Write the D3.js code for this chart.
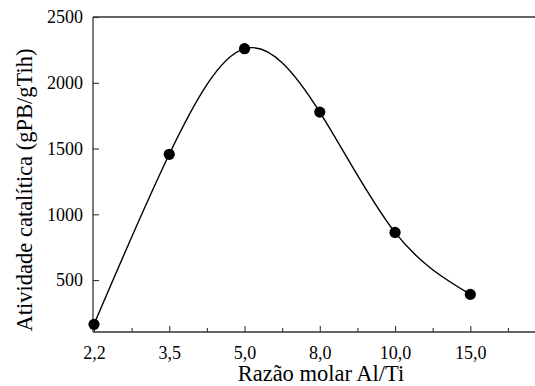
<!DOCTYPE html>
<html><head><meta charset="utf-8">
<script src="https://cdn.jsdelivr.net/npm/d3@7"></script>
<style>
body{margin:0;background:#fff;}
</style></head>
<body><svg id="c" width="535" height="386"></svg>
<script>
const categories = ["2,2","3,5","5,0","8,0","10,0","15,0"];
const values = [163, 1456, 2259, 1777, 862, 391];
const yTicks = [500, 1000, 1500, 2000, 2500];
const xTitle = "Razão molar Al/Ti";
const yTitle = "Atividade catalítica (gPB/gTih)";

(function(){
const FONT = "'Liberation Serif', 'DejaVu Serif', 'Times New Roman', Times, serif";
const svg = d3.select("#c");
const pL = 93, pR = 535, pT = 17, pB = 332;
const x = d3.scaleLinear().domain([0, 5]).range([94, 470.3]);
const y = d3.scaleLinear().domain([105, 2500]).range([pB, pT]);

// top border
svg.append("line").attr("x1", pL).attr("x2", pR).attr("y1", pT).attr("y2", pT)
  .attr("stroke", "#333").attr("stroke-width", 1.3);

// x axis
const xAxis = d3.axisBottom(x).tickValues(d3.range(categories.length))
  .tickFormat(i => categories[i]).tickSize(-6).tickPadding(14).tickSizeOuter(0);
const gx = svg.append("g").attr("transform", `translate(0,${pB})`).call(xAxis);
gx.select(".domain").remove();
gx.append("line").attr("x1", pL).attr("x2", pR).attr("stroke", "#333").attr("stroke-width", 1.3);
gx.selectAll(".tick line").attr("stroke", "#333").attr("stroke-width", 1.1);
gx.selectAll("text").style("font-size", "18px").style("font-family", FONT).attr("fill", "#000");

const minor = d3.axisBottom(x).tickValues([0.5,1.5,2.5,3.5,4.5,5.5]).tickSize(-4).tickFormat("").tickSizeOuter(0);
const gm = svg.append("g").attr("transform", `translate(0,${pB})`).call(minor);
gm.select(".domain").remove();
gm.selectAll(".tick line").attr("stroke", "#333").attr("stroke-width", 1.1);

// y axis
const yAxis = d3.axisLeft(y).tickValues(yTicks).tickFormat(d3.format("d"))
  .tickSize(-6).tickPadding(10).tickSizeOuter(0);
const gy = svg.append("g").attr("transform", `translate(${pL},0)`).call(yAxis);
gy.select(".domain").remove();
gy.append("line").attr("y1", pT).attr("y2", pB).attr("stroke", "#333").attr("stroke-width", 1.3);
gy.selectAll(".tick line").attr("stroke", "#333").attr("stroke-width", 1.1);
gy.selectAll("text").style("font-size", "18px").style("font-family", FONT).attr("fill", "#000");

// curve
const pts = values.map((v, i) => [x(i), y(v)]);
svg.append("path").attr("d", d3.line().curve(d3.curveNatural)(pts))
  .attr("fill", "none").attr("stroke", "#000").attr("stroke-width", 1.4);

svg.selectAll("circle.pt").data(values).enter().append("circle")
  .attr("cx", (d, i) => x(i)).attr("cy", d => y(d)).attr("r", 5.6).attr("fill", "#000");

// titles
svg.append("text").attr("x", 321).attr("y", 381).attr("text-anchor", "middle")
  .style("font-size", "22.5px").style("font-family", FONT).text(xTitle);
svg.append("text").attr("transform", "translate(32,190) rotate(-90)").attr("text-anchor", "middle")
  .style("font-size", "22.5px").style("font-family", FONT).text(yTitle);
})();
</script></body></html>
